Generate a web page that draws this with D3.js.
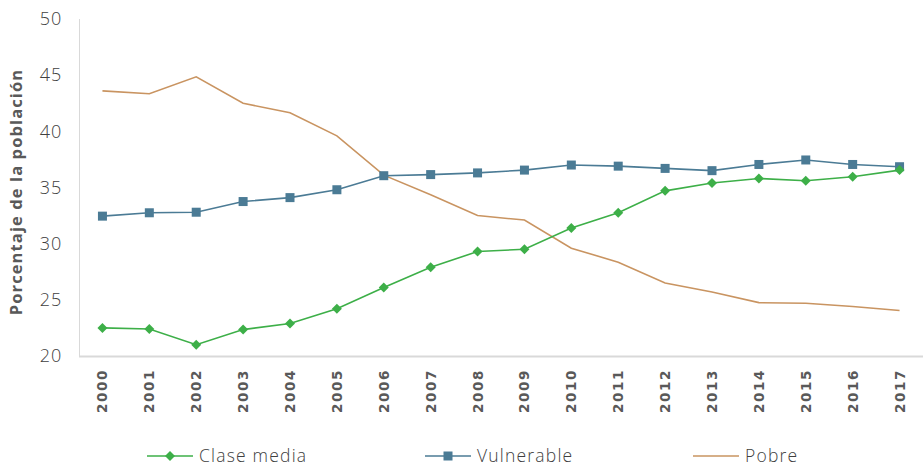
<!DOCTYPE html>
<html>
<head>
<meta charset="utf-8">
<script src="https://cdn.jsdelivr.net/npm/d3@7"></script>
<style>
  body { margin: 0; background: #fff; }
  svg text { font-family: "Open Sans", Lato, sans-serif; }
</style>
</head>
<body>
<svg id="chart" width="923" height="466"></svg>
<script>
// Data
var years = ["2000","2001","2002","2003","2004","2005","2006","2007","2008",
             "2009","2010","2011","2012","2013","2014","2015","2016","2017"];
var claseMedia = [22.5, 22.4, 21.0, 22.35, 22.9, 24.2, 26.1, 27.9, 29.3,
                  29.5, 31.4, 32.75, 34.7, 35.4, 35.8, 35.6, 35.95, 36.55];
var vulnerable = [32.45, 32.75, 32.8, 33.75, 34.1, 34.8, 36.05, 36.15, 36.3,
                  36.55, 37.0, 36.9, 36.7, 36.5, 37.05, 37.45, 37.05, 36.85];
var pobre = [43.6, 43.35, 44.85, 42.5, 41.65, 39.6, 36.1, 34.35, 32.5,
             32.1, 29.6, 28.35, 26.5, 25.7, 24.75, 24.7, 24.4, 24.05];
var yTicks = [20, 25, 30, 35, 40, 45, 50];

var series = [
  {name: "Clase media", values: claseMedia, color: "#3daf48", marker: "diamond"},
  {name: "Vulnerable", values: vulnerable, color: "#4b7b95", marker: "square"},
  {name: "Pobre", values: pobre, color: "#c99461", marker: "none"}
];

var svg = d3.select("#chart");

// scales
var x = d3.scalePoint()
    .domain(years)
    .range([79, 923])
    .padding(0.5);

var y = d3.scaleLinear()
    .domain([20, 50])
    .range([356, 19]);

// y axis line
svg.append("line")
    .attr("x1", 79.5).attr("x2", 79.5)
    .attr("y1", y(50)).attr("y2", y(20))
    .attr("stroke", "#d9d9d9").attr("stroke-width", 1);

// x axis line
svg.append("line")
    .attr("x1", 79).attr("x2", 923)
    .attr("y1", y(20) + 0.5).attr("y2", y(20) + 0.5)
    .attr("stroke", "#d9d9d9").attr("stroke-width", 2);

// y tick labels
svg.append("g")
  .selectAll("text")
  .data(yTicks)
  .enter()
  .append("text")
    .attr("x", 62)
    .attr("y", function(d) { return y(d); })
    .attr("dy", "0.35em")
    .attr("text-anchor", "end")
    .style("font-size", "18px")
    .style("font-weight", 300)
    .style("letter-spacing", "0.8px")
    .style("fill", "#404040")
    .text(function(d) { return d; });

// x tick labels (rotated)
svg.append("g")
  .selectAll("text")
  .data(years)
  .enter()
  .append("text")
    .attr("transform", function(d) {
      return "translate(" + (x(d) + 5) + ",369) rotate(-90)";
    })
    .attr("text-anchor", "end")
    .style("font-family", "'DejaVu Sans', sans-serif")
    .style("font-size", "13.5px")
    .style("font-weight", "bold")
    .style("letter-spacing", "1.6px")
    .style("fill", "#595959")
    .text(function(d) { return d; });

// y axis title
svg.append("text")
    .attr("transform", "translate(22,192) rotate(-90)")
    .attr("text-anchor", "middle")
    .style("font-size", "16.5px")
    .style("font-weight", "bold")
    .style("letter-spacing", "1.1px")
    .style("fill", "#595959")
    .text("Porcentaje de la población");

// lines
var line = d3.line()
    .x(function(d, i) { return x(years[i]); })
    .y(function(d) { return y(d); });

// draw Pobre first so markers sit above it
var order = [2, 1, 0];
order.forEach(function(k) {
  var s = series[k];
  svg.append("path")
      .datum(s.values)
      .attr("fill", "none")
      .attr("stroke", s.color)
      .attr("stroke-width", 1.6)
      .attr("d", line);
});

function drawMarker(g, type, cx, cy, color) {
  if (type == "square") {
    g.append("rect")
      .attr("x", cx - 4.5).attr("y", cy - 4.5)
      .attr("width", 9).attr("height", 9)
      .attr("fill", color);
  } else if (type == "diamond") {
    g.append("path")
      .attr("d", "M" + cx + "," + (cy - 5) + "L" + (cx + 5) + "," + cy +
                 "L" + cx + "," + (cy + 5) + "L" + (cx - 5) + "," + cy + "Z")
      .attr("fill", color);
  }
}

var markers = svg.append("g");
[1, 0].forEach(function(k) {
  var s = series[k];
  s.values.forEach(function(v, i) {
    drawMarker(markers, s.marker, x(years[i]), y(v), s.color);
  });
});

// legend
var legendX = [147, 425, 693];
var legend = svg.append("g");
series.forEach(function(s, i) {
  var lx = legendX[i], ly = 456;
  legend.append("line")
    .attr("x1", lx).attr("x2", lx + 46)
    .attr("y1", ly).attr("y2", ly)
    .attr("stroke", s.color).attr("stroke-width", 1.6);
  drawMarker(legend, s.marker, lx + 23, ly, s.color);
  legend.append("text")
    .attr("x", lx + 52)
    .attr("y", ly)
    .attr("dy", "0.34em")
    .style("font-size", "17.5px")
    .style("font-weight", 300)
    .style("letter-spacing", "1.2px")
    .style("fill", "#404040")
    .text(s.name);
});
</script>
</body>
</html>
